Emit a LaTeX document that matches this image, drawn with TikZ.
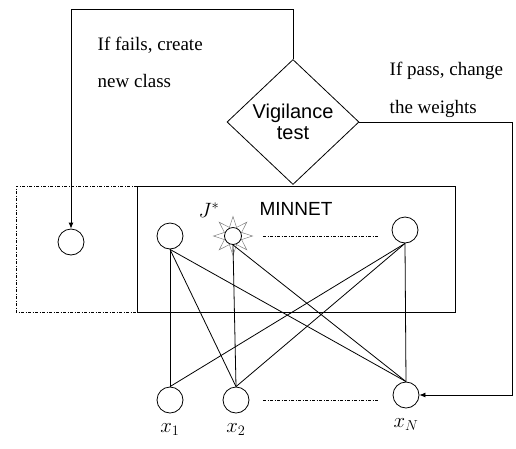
\documentclass[tikz,border=0pt]{standalone}
\usepackage{fontspec}
\setmainfont{Liberation Serif}
\newfontfamily\arial{Liberation Sans}
\usetikzlibrary{shapes.geometric, positioning, arrows.meta}

\newcommand\notefont{\fontsize{19}{21}\selectfont}
\newcommand\labelfont{\fontsize{22}{22}\selectfont}

\begin{document}
\begin{tikzpicture}[x=1pt, y=-1pt, line width=0.8pt,
    neuron/.style={circle, draw, minimum size=26pt, inner sep=0pt},
    dots/.style={dash pattern=on 3pt off 1.5pt on 1pt off 1.5pt, line width=0.6pt},
    note/.style={anchor=base west, font=\notefont},
    lbl/.style={below=6pt of #1, font=\labelfont},
    >={Latex[length=6pt,width=5pt]}]
  \useasboundingbox (0,0) rectangle (516,448);

  % vigilance test
  \node[diamond, draw, inner sep=0pt, minimum width=132pt, minimum height=125pt,
        align=center, font=\arial\fontsize{20}{21}\selectfont] (test) at (293,122) {Vigilance\\test};
  \node[note] (fail1) at (94,50) {If fails, create};
  \node[note] (fail2) at (94,87) {new class};
  \node[note] (pass1) at (386,75) {If pass, change};
  \node[note] (pass2) at (386,113) {the weights};

  % MINNET layer
  \draw (137,186) rectangle (455,312);
  \draw[dots] (137,186) -| (16,312) -- (137,312);
  \node[anchor=base, font=\arial\fontsize{19}{20}\selectfont] (name) at (296,215) {MINNET};
  \node[font=\labelfont] (win) at (209,210) {$J^*$};

  \node[neuron] (new) at (71,242) {};
  \node[neuron] (c1) at (170,236) {};
  \node[star, star points=8, star point ratio=2.1, draw=gray, fill=white,
        minimum size=39pt, inner sep=0pt, line width=0.5pt] (spark) at (233,236) {};
  \node[neuron, minimum size=17pt] (cj) at (spark) {};
  \node[neuron] (cN) at (405,230) {};
  \draw[dots] (263,236) -- (378,236);

  % input layer
  \node[neuron] (x1) at (170,400) {};
  \node[neuron] (x2) at (236,400) {};
  \node[neuron] (xN) at (406,395) {};
  \draw[dots] (263,400) -- (378,400);
  \node[lbl=x1] (l1) {$x_1$};
  \node[lbl=x2] (l2) {$x_2$};
  \node[lbl=xN] (lN) {$x_N$};

  \foreach \a/\b in {c1/x1, c1/x2, c1/xN, cj/x2, cj/xN, cN/x1, cN/x2, cN/xN}
    \draw (\a.south) -- (\b.north);

  % feedback
  \coordinate (top) at (test.north |- 0,9);
  \coordinate (side) at (test.east -| 512,0);
  \draw[->] (test.north) -- (top) -| (new.north);
  \draw[->] (test.east) -- (side) |- (xN.east);
\end{tikzpicture}
\end{document}
